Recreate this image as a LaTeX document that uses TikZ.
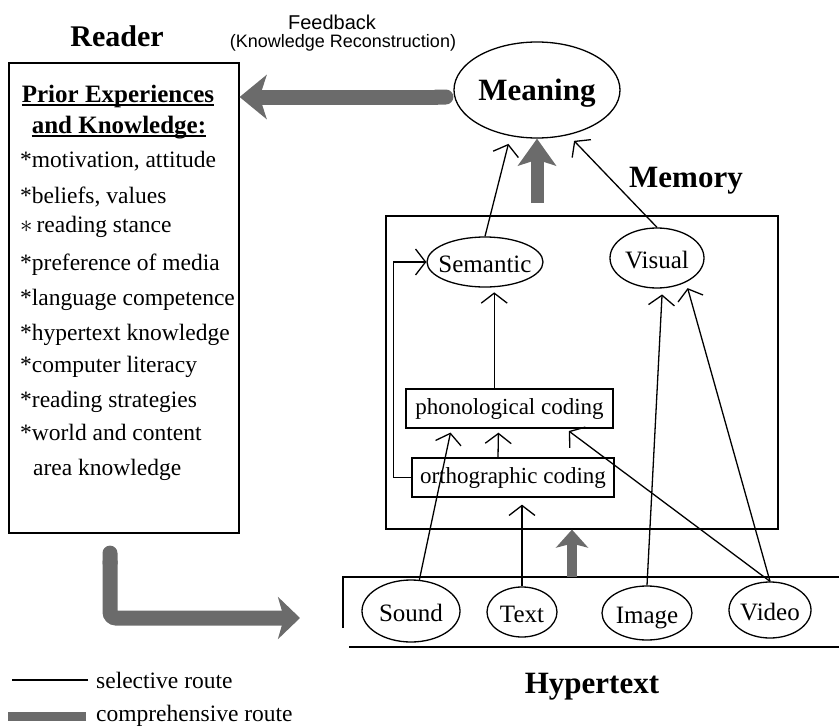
\documentclass[tikz,border=0pt]{standalone}
\usepackage{fontspec}
\setmainfont{Liberation Serif}
\newfontfamily\labelsans{Liberation Sans}
\usepackage{tikz}
\usetikzlibrary{positioning,shapes,arrows.meta}
\tikzstyle{title}=[anchor=base, inner sep=0pt, font=\bfseries\fontsize{31}{36}\selectfont]
\tikzstyle{heading}=[anchor=base, inner sep=0pt, font=\bfseries\fontsize{25}{30}\selectfont]
\tikzstyle{item}=[anchor=base west, inner sep=0pt, font=\fontsize{23.5}{28}\selectfont]
\tikzstyle{oval}=[ellipse, draw, line width=1.3pt, inner sep=0pt, text height=20pt, text depth=0pt,
font=\fontsize{25}{30}\selectfont]
\tikzstyle{coding}=[rectangle, draw, line width=1.3pt, minimum height=39, inner sep=0pt,
font=\fontsize{23}{28}\selectfont]
\tikzstyle{sel}=[line width=1.3pt, -{Straight Barb[length=10pt,width=26pt]}]
\tikzstyle{comp}=[draw=black!58]

\begin{document}
\begin{tikzpicture}[x=1pt, y=-1pt]
\useasboundingbox (0,0) rectangle (839,728);

\node[title, font=\bfseries\fontsize{30}{36}\selectfont] (1) at (117,46) {Reader};
\node[anchor=base, inner sep=0pt, font=\labelsans\fontsize{20}{24}\selectfont] (2) at (332,29) {Feedback};
\node[anchor=base, inner sep=0pt, font=\labelsans\fontsize{18}{22}\selectfont] (3) at (343,47) {(Knowledge Reconstruction)};

\node[draw, line width=1.6pt, minimum width=230, minimum height=470, anchor=north west] (4) at (8,62) {};
\node[heading] (5) at (118,102) {Prior Experiences};
\node[heading] (6) at (119,133) {and Knowledge:};
\draw[line width=1.6pt] ([yshift=-3pt]5.base west) -- ([yshift=-3pt]5.base east);
\draw[line width=1.6pt] ([yshift=-3pt]6.base west) -- ([yshift=-3pt]6.base east);
\node[item] (7) at (20,167) {*motivation, attitude};
\node[item] (8) at (20,203) {*beliefs, values};
\node[item] (9) at (20,232) {$\ast$\,reading stance};
\node[item] (10) at (20,270) {*preference of media};
\node[item] (11) at (20,305) {*language competence};
\node[item] (12) at (20,340) {*hypertext knowledge};
\node[item] (13) at (20,372) {*computer literacy};
\node[item] (14) at (20,407) {*reading strategies};
\node[item] (15) at (20,440) {*world and content};
\node[item] (16) at (33,475) {area knowledge};

\node[oval, minimum width=166, minimum height=96, font=\bfseries\fontsize{31}{36}\selectfont] (17) at (537,90) {\makebox[0pt]{Meaning}};
\node[title] (18) at (686,187) {Memory};
\node[draw, line width=1.6pt, minimum width=392, minimum height=313, anchor=north west] (19) at (385,215) {};
\node[oval, minimum width=116, minimum height=50] (20) at (485,262) {\makebox[0pt]{Semantic}};
\node[oval, minimum width=94, minimum height=60] (21) at (657,258) {\makebox[0pt]{Visual}};
\node[coding, minimum width=207] (22) at (509.5,408.5) {phonological coding};
\node[coding, minimum width=202] (23) at (513,477.5) {orthographic coding};

\node[oval, minimum width=98, minimum height=62] (24) at (411,611) {\makebox[0pt]{Sound}};
\node[oval, minimum width=70, minimum height=50] (25) at (522,612) {\makebox[0pt]{Text}};
\node[oval, minimum width=90, minimum height=54] (26) at (647,613) {\makebox[0pt]{Image}};
\node[oval, minimum width=82, minimum height=56] (27) at (770,610) {\makebox[0pt]{Video}};
\node[title] (28) at (592,693) {Hypertext};
\draw[line width=1.6pt] (343,628) -- (343,577) -- (839,577);
\draw[line width=1.6pt] (349,647) -- (839,647);

\draw[sel, shorten >=8pt] (20.north) -- (17.240);
\draw[sel, shorten >=8pt] (21.north) -- (17.305);
\draw[sel, shorten >=5pt] (22.north -| 20.-70) -- (20.-70);
\draw[sel] (23.west) -- ++(-18,0) |- (20.west);
\draw[sel, shorten >=4pt] ([xshift=-15pt]23.north) -- ([xshift=-11pt]22.south);
\draw[sel, shorten >=7pt] (25.north) -- (25.north |- 23.south);
\draw[sel, shorten >=4pt] (24.75) -- ([xshift=46pt]22.south west);
\draw[sel, shorten >=4pt] (27.north) -- ([xshift=-48pt]22.south east);
\draw[sel, shorten >=6pt] (26.north) -- (21.-80);
\draw[sel, shorten >=6pt] (27.north) -- (21.-40);

\draw[comp, line width=15pt, {Round Cap}-{Stealth[length=27pt,width=44pt,inset=7pt]}] ([yshift=-7pt]17.west) -- ([yshift=-7pt]17.west -| 4.east);
\draw[comp, line width=13pt, shorten <=12pt, -{Stealth[length=27pt,width=38pt,inset=6pt]}] (17.south |- 19.north) -- (17.south);
\coordinate (31) at (572,577);
\draw[comp, line width=10pt, -{Stealth[length=18pt,width=32pt,inset=4pt]}] (31) -- (31 |- 19.south);
\coordinate (32) at (110,618);
\coordinate (33) at (300,618);
\draw[comp, line width=15pt, rounded corners=6pt, shorten <=12pt, {Round Cap}-{Stealth[length=22pt,width=42pt,inset=6pt]}] (4.south -| 32) -- (32) -- (33);

\node[item, anchor=west] (29) at (96,680) {selective route};
\draw[line width=1.3pt] ([xshift=-8pt]29.west) -- ++(-76,0);
\node[item, anchor=west] (30) at (96,716) {comprehensive route};
\draw[comp, line width=9pt] ([xshift=-10pt]30.west) -- ++(-78,0);
\end{tikzpicture}
\end{document}
